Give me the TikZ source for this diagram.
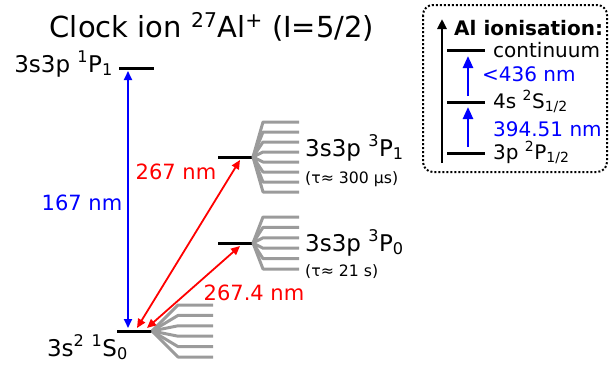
\documentclass[tikz,border=0pt]{standalone}
\usepackage{fontspec}
\setmainfont{DejaVu Sans}
\usetikzlibrary{arrows.meta}
\definecolor{fangray}{RGB}{155,155,155}
\definecolor{lblue}{RGB}{0,0,255}
\definecolor{lred}{RGB}{255,0,0}
\begin{document}
\begin{tikzpicture}[x=1pt,y=-1pt,
  lvl/.style={line width=3pt},
  fanline/.style={fangray,line width=3pt,line join=round},
  bigtxt/.style={font=\fontsize{23}{27}\selectfont,inner sep=0pt},
  smalltxt/.style={font=\fontsize{15.7}{18}\selectfont,inner sep=0pt},
  nmtxt/.style={font=\fontsize{21}{25}\selectfont,inner sep=0pt},
  insettxt/.style={font=\fontsize{20}{24}\selectfont,inner sep=0pt},
  bluarrow/.style={lblue,line width=1.8pt,{Triangle[length=9pt,width=8pt]}-{Triangle[length=9pt,width=8pt]}},
  redarrow/.style={lred,line width=1.8pt,{Triangle[length=9pt,width=8pt]}-{Triangle[length=9pt,width=8pt]}},
  insetblue/.style={lblue,line width=2.5pt,-{Triangle[length=12pt,width=10pt]}},
]
\useasboundingbox (0,0) rectangle (611,367);

% title
\node[font=\fontsize{29}{35}\selectfont,inner sep=0pt,anchor=base] (title) at (212,37)
  {Clock ion \textsuperscript{27}Al\textsuperscript{+} (I=5/2)};

% levels
\draw[lvl] (119,68) -- (154,68);
\draw[lvl] (117,331) -- (152,331);
\draw[lvl] (218,157) -- (253,157);
\draw[lvl] (218,243) -- (253,243);

% hyperfine fans
\foreach \yy in {305,315.4,325.8,336.2,346.6,357}
  \draw[fanline] (152,331) -- (178,\yy) -- (213,\yy);
\foreach \yy in {122,132,142,152,162,172,182,192}
  \draw[fanline] (253,157) -- (263,\yy) -- (299,\yy);
\foreach \yy in {217,227.4,237.8,248.2,258.6,269}
  \draw[fanline] (253,243) -- (263,\yy) -- (299,\yy);

% connector ends
\coordinate (g1) at (128,328);
\coordinate (p1) at (128,71);
\coordinate (g2) at (137,328);
\coordinate (t1) at (240,160);
\coordinate (g3) at (147,328);
\coordinate (t0) at (240,246);

\draw[bluarrow] (g1) -- (p1);
\draw[redarrow] (g2) -- (t1);
\draw[redarrow] (g3) -- (t0);

% labels
\node[bigtxt,anchor=base east] (l1p1) at (113,72) {3s3p \textsuperscript{1}P\textsubscript{1}};
\node[bigtxt,anchor=base east] (l1s0) at (128,356) {3s\textsuperscript{2} \textsuperscript{1}S\textsubscript{0}};
\node[bigtxt,anchor=base west] (l3p1) at (305,156) {3s3p \textsuperscript{3}P\textsubscript{1}};
\node[smalltxt,anchor=base west] (tau1) at (305,183) {(τ≈ 300 μs)};
\node[bigtxt,anchor=base west] (l3p0) at (305,251) {3s3p \textsuperscript{3}P\textsubscript{0}};
\node[smalltxt,anchor=base west] (tau0) at (305,276) {(τ≈ 21 s)};

\node[nmtxt,lblue] (n167) at (82,203) {167 nm};
\node[nmtxt,lred] (n267) at (176,172) {267 nm};
\node[nmtxt,lred] (n2674) at (254,293) {267.4 nm};

% inset
\draw[line width=2pt,dotted,rounded corners=10pt] (423,5) rectangle (607,172);
\coordinate (ax0) at (442,163);
\coordinate (ax1) at (442,19);
\draw[line width=2.5pt,-{Triangle[length=10pt,width=9pt]}] (ax0) -- (ax1);
\node[font=\bfseries\fontsize{20}{24}\selectfont,inner sep=0pt,anchor=base west] (ionis) at (454,35) {Al ionisation:};

\draw[lvl] (447,50) -- (485,50);
\draw[lvl] (447,102) -- (485,102);
\draw[lvl] (447,153) -- (485,153);
\node[insettxt,anchor=base west] (cont) at (493,57) {continuum};
\node[insettxt,anchor=base west] (s12) at (493,108) {4s \textsuperscript{2}S\textsubscript{1/2}};
\node[insettxt,anchor=base west] (p12) at (493,159) {3p \textsuperscript{2}P\textsubscript{1/2}};

\coordinate (b1) at (468,96);
\coordinate (b2) at (468,56);
\coordinate (b3) at (468,147);
\coordinate (b4) at (468,107);
\draw[insetblue] (b1) -- (b2);
\draw[insetblue] (b3) -- (b4);
\node[insettxt,lblue,anchor=base west] (n436) at (482,81) {<436 nm};
\node[insettxt,lblue,anchor=base west] (n394) at (493,136) {394.51 nm};
\end{tikzpicture}
\end{document}
